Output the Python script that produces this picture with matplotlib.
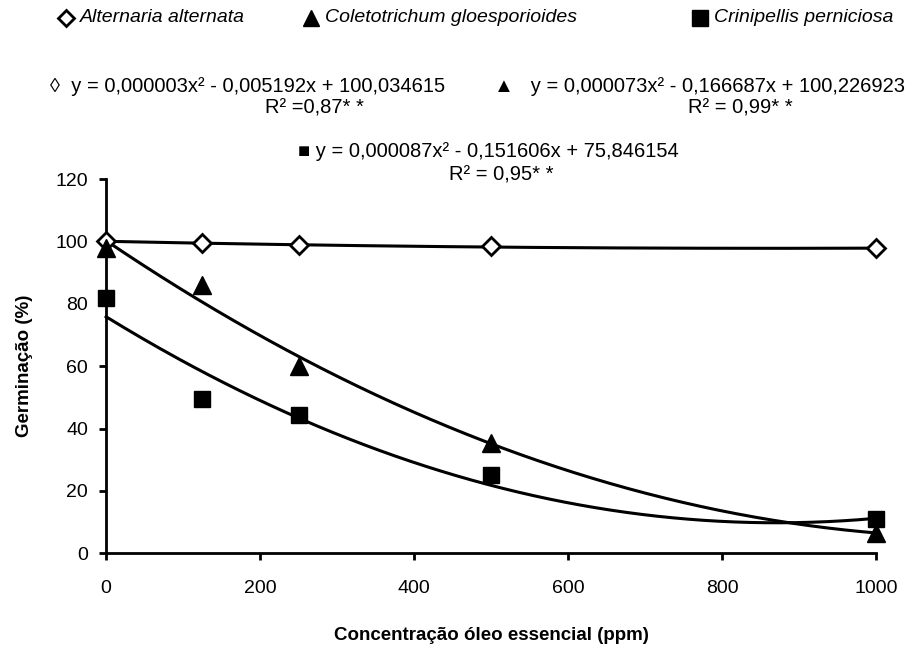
import numpy as np
import matplotlib
matplotlib.use("Agg")
import matplotlib.pyplot as plt
from matplotlib.lines import Line2D

plt.rcParams['font.family'] = ['Liberation Sans', 'DejaVu Sans']

# Data
conc = [0, 125, 250, 500, 1000]
alternaria = [100, 99.6, 98.9, 98.6, 98.0]
colletotrichum = [98, 86, 60, 35.5, 6.5]
crinipellis = [82, 49.5, 44.5, 25, 11]

# Trendline coefficients (a, b, c) from the chart: y = a x^2 + b x + c
coef_alt = [0.000003, -0.005192, 100.034615]
coef_col = [0.000073, -0.166687, 100.226923]
coef_cri = [0.000087, -0.151606, 75.846154]

series_names = ["Alternaria alternata", "Coletotrichum gloesporioides", "Crinipellis perniciosa"]
eq_alt = "\u25CA  y = 0,000003x\u00b2 - 0,005192x + 100,034615"
r2_alt = "R\u00b2 =0,87* *"
eq_col = "\u25B2   y = 0,000073x\u00b2 - 0,166687x + 100,226923"
r2_col = "R\u00b2 = 0,99* *"
eq_cri = "\u25A0 y = 0,000087x\u00b2 - 0,151606x + 75,846154"
r2_cri = "R\u00b2 = 0,95* *"

fig = plt.figure(figsize=(9.07, 6.51), dpi=100)
ax = fig.add_axes([0.117, 0.150, 0.849, 0.575])

xs = np.linspace(0, 1000, 300)
for coef in (coef_alt, coef_col, coef_cri):
    ax.plot(xs, np.polyval(coef, xs), color='black', lw=2.2, zorder=2, clip_on=False)

ax.plot(conc, alternaria, linestyle='none', marker='D', ms=9, mfc='white', mec='black', mew=2, zorder=3, clip_on=False)
ax.plot(conc, colletotrichum, linestyle='none', marker='^', ms=13, mfc='black', mec='black', zorder=3, clip_on=False)
ax.plot(conc, crinipellis, linestyle='none', marker='s', ms=12, mfc='black', mec='black', zorder=3, clip_on=False)

ax.set_xlim(0, 1000)
ax.set_ylim(0, 120)
ax.set_xticks([0, 200, 400, 600, 800, 1000])
ax.set_yticks([0, 20, 40, 60, 80, 100, 120])
for s in ('top', 'right'):
    ax.spines[s].set_visible(False)
for s in ('left', 'bottom'):
    ax.spines[s].set_linewidth(2)
ax.tick_params(axis='both', direction='out', length=5, width=2, labelsize=14, pad=8)
ax.tick_params(axis='x', pad=14)
ax.set_xlabel("Concentração óleo essencial (ppm)", fontsize=13.5, fontweight='bold', labelpad=22)
ax.set_ylabel("Germinação (%)", fontsize=13.5, fontweight='bold', labelpad=16)

# Legend (placed manually along the top)
W, H = 907, 651
leg_y = 1 - 18 / H
leg_marker_x = [66, 311, 700]
leg_styles = [
    dict(marker='D', ms=8, mfc='white', mec='black', mew=2),
    dict(marker='^', ms=11, mfc='black', mec='black'),
    dict(marker='s', ms=11, mfc='black', mec='black'),
]
for mx, st, name in zip(leg_marker_x, leg_styles, series_names):
    fig.add_artist(Line2D([mx / W], [leg_y], transform=fig.transFigure, linestyle='none', **st))
    fig.text((mx + 14) / W, leg_y, name, fontsize=14, style='italic', ha='left', va='center')

fs = 14.5
fig.text(50 / W, 1 - 87 / H, eq_alt, fontsize=fs, ha='left', va='center')
fig.text(314 / W, 1 - 108 / H, r2_alt, fontsize=fs, ha='center', va='center')
fig.text(905 / W, 1 - 87 / H, eq_col, fontsize=fs, ha='right', va='center')
fig.text(740 / W, 1 - 108 / H, r2_col, fontsize=fs, ha='center', va='center')
fig.text(298 / W, 1 - 152 / H, eq_cri, fontsize=fs, ha='left', va='center')
fig.text(501 / W, 1 - 175 / H, r2_cri, fontsize=fs, ha='center', va='center')

fig.savefig("out.png", dpi=100)
